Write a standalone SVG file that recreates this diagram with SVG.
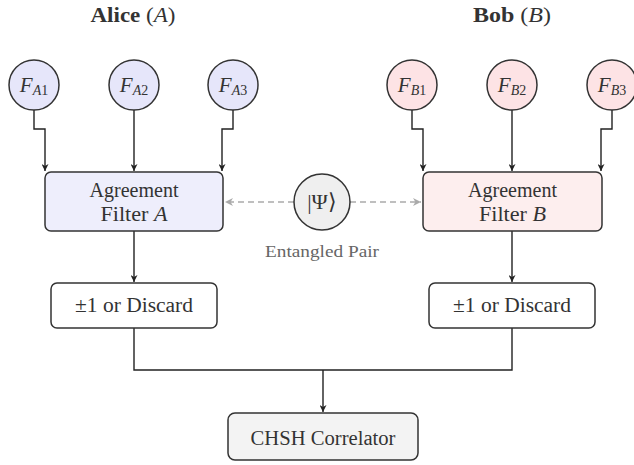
<svg xmlns="http://www.w3.org/2000/svg" width="634" height="465" viewBox="0 0 634 465">
<style>
text{font-family:"Liberation Serif","Times New Roman",serif;fill:#333;}
.t{font-size:20px;text-anchor:middle;}
.title{font-size:20px;font-weight:bold;text-anchor:middle;}
.it{font-style:italic;}
.lab{font-size:21px;}
.sub{font-size:14px;}
.node{stroke:#333;stroke-width:1.5;}
.ca{fill:#e6e6fa;}
.cb{fill:#fde3e5;}
.fa{fill:#eeeefc;}
.fb{fill:#fdeeee;}
.gray{fill:#efefef;}
.white{fill:#fff;}
.corr{fill:#f3f3f3;}
.edge{fill:none;stroke:#222;stroke-width:1.4;}
.dash{fill:none;stroke:#aaa;stroke-width:1.5;stroke-dasharray:6,4;}
</style>
<defs>
<marker id="ah" viewBox="0 0 10 10" refX="10" refY="5" markerWidth="7" markerHeight="7" markerUnits="userSpaceOnUse" orient="auto"><path d="M0,0 L10,5 L0,10 L3,5 Z" fill="#222"/></marker>
<marker id="ahg" viewBox="0 0 10 10" refX="10" refY="5" markerWidth="8" markerHeight="8" markerUnits="userSpaceOnUse" orient="auto"><path d="M0,0 L10,5 L0,10 L3,5 Z" fill="#aaa"/></marker>
</defs>

<g id="title-alice"><text class="title" x="133" y="22" textLength="85" lengthAdjust="spacingAndGlyphs">Alice <tspan font-weight="normal">(</tspan><tspan class="it" font-weight="normal">A</tspan><tspan font-weight="normal">)</tspan></text></g>
<g id="title-bob"><text class="title" x="512" y="22" textLength="78" lengthAdjust="spacingAndGlyphs">Bob <tspan font-weight="normal">(</tspan><tspan class="it" font-weight="normal">B</tspan><tspan font-weight="normal">)</tspan></text></g>

<g id="connectors">
<path class="edge" d="M34,110 V129 H45 V171" marker-end="url(#ah)"/>
<path class="edge" d="M134,110 V171" marker-end="url(#ah)"/>
<path class="edge" d="M233,110 V129 H222 V171" marker-end="url(#ah)"/>
<path class="edge" d="M412,110 V129 H423 V171" marker-end="url(#ah)"/>
<path class="edge" d="M512,110 V171" marker-end="url(#ah)"/>
<path class="edge" d="M612,110 V129 H601 V171" marker-end="url(#ah)"/>
<path class="dash" d="M294,202 H225" marker-end="url(#ahg)"/>
<path class="dash" d="M350,202 H421" marker-end="url(#ahg)"/>
<path class="edge" d="M134,231 V282" marker-end="url(#ah)"/>
<path class="edge" d="M512,231 V282" marker-end="url(#ah)"/>
<path class="edge" d="M134,328 V370 H512 V328"/>
<path class="edge" d="M323,370 V412" marker-end="url(#ah)"/>
</g>

<g id="FA1"><circle class="node ca" cx="34" cy="85" r="25"/><text x="34" y="92" class="t lab"><tspan class="it">F</tspan><tspan class="sub it" dy="3">A</tspan><tspan class="sub">1</tspan></text></g>
<g id="FA2"><circle class="node ca" cx="134" cy="85" r="25"/><text x="134" y="92" class="t lab"><tspan class="it">F</tspan><tspan class="sub it" dy="3">A</tspan><tspan class="sub">2</tspan></text></g>
<g id="FA3"><circle class="node ca" cx="233" cy="85" r="25"/><text x="233" y="92" class="t lab"><tspan class="it">F</tspan><tspan class="sub it" dy="3">A</tspan><tspan class="sub">3</tspan></text></g>
<g id="FB1"><circle class="node cb" cx="412" cy="85" r="25"/><text x="412" y="92" class="t lab"><tspan class="it">F</tspan><tspan class="sub it" dy="3">B</tspan><tspan class="sub">1</tspan></text></g>
<g id="FB2"><circle class="node cb" cx="512" cy="85" r="25"/><text x="512" y="92" class="t lab"><tspan class="it">F</tspan><tspan class="sub it" dy="3">B</tspan><tspan class="sub">2</tspan></text></g>
<g id="FB3"><circle class="node cb" cx="612" cy="85" r="25"/><text x="612" y="92" class="t lab"><tspan class="it">F</tspan><tspan class="sub it" dy="3">B</tspan><tspan class="sub">3</tspan></text></g>

<g id="filterA"><rect class="node fa" x="45" y="172" width="178" height="59" rx="6"/><text class="t" x="134" y="197" textLength="89" lengthAdjust="spacingAndGlyphs">Agreement</text><text class="t" x="134" y="221" textLength="67" lengthAdjust="spacingAndGlyphs">Filter <tspan class="it">A</tspan></text></g>
<g id="filterB"><rect class="node fb" x="423" y="172" width="179" height="59" rx="6"/><text class="t" x="512.5" y="197" textLength="89" lengthAdjust="spacingAndGlyphs">Agreement</text><text class="t" x="512.5" y="221" textLength="67" lengthAdjust="spacingAndGlyphs">Filter <tspan class="it">B</tspan></text></g>

<g id="psi"><circle class="node gray" cx="322" cy="202" r="28"/><text class="t" x="322" y="209" style="font-size:22px">|Ψ⟩</text><text class="t" x="322" y="257" style="fill:#666;font-size:17px" textLength="114" lengthAdjust="spacingAndGlyphs">Entangled Pair</text></g>

<g id="outA"><rect class="node white" x="51" y="283" width="166" height="45" rx="6"/><text class="t" x="134" y="312" textLength="118" lengthAdjust="spacingAndGlyphs">±1 or Discard</text></g>
<g id="outB"><rect class="node white" x="429" y="283" width="166" height="45" rx="6"/><text class="t" x="512" y="312" textLength="118" lengthAdjust="spacingAndGlyphs">±1 or Discard</text></g>

<g id="chsh"><rect class="node corr" x="228" y="413" width="190" height="47" rx="7"/><text class="t" x="323" y="445" textLength="145" lengthAdjust="spacingAndGlyphs">CHSH Correlator</text></g>
</svg>
